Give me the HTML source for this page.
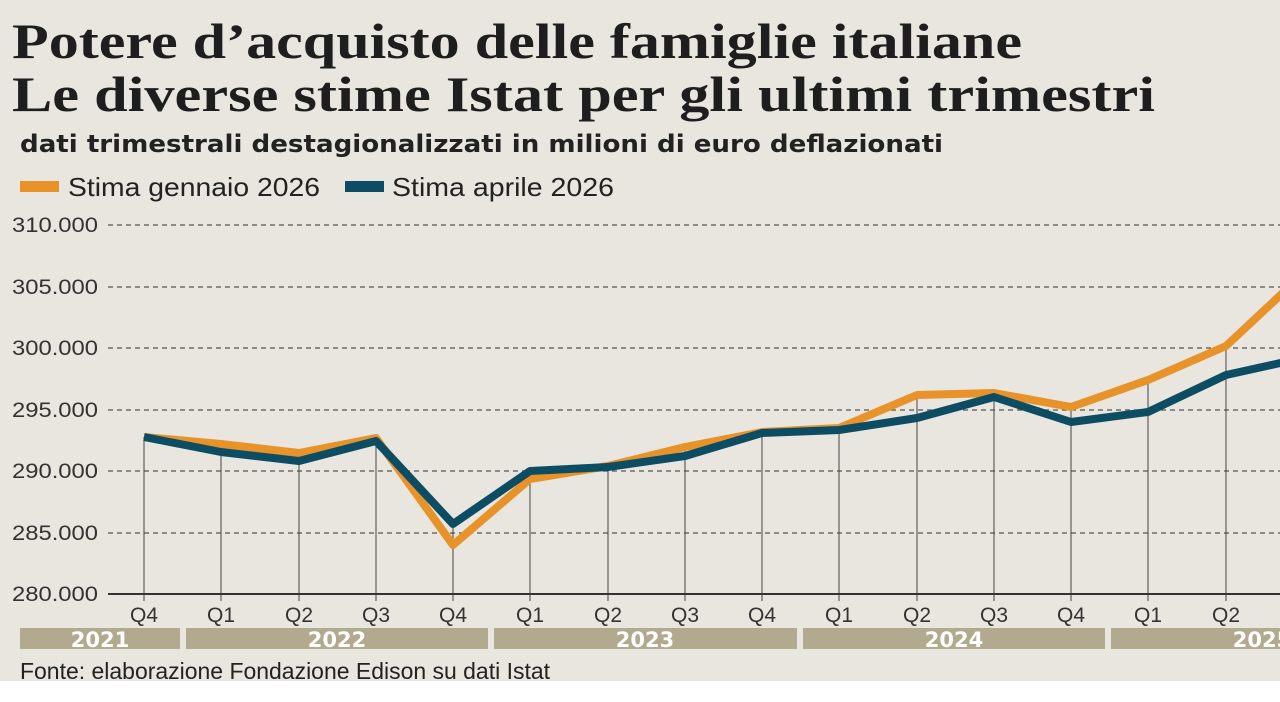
<!DOCTYPE html>
<html><head><meta charset="utf-8"><style>
body{margin:0;width:1280px;height:702px;overflow:hidden;background:#fff;}
#bg{position:absolute;left:0;top:0;width:1280px;height:681px;background:#e8e6df;}
</style></head><body>
<div id="bg"></div>
<svg width="1280" height="702" style="position:absolute;left:0;top:0" font-family="Liberation Sans, sans-serif">
<g font-family="Liberation Serif, serif" font-weight="bold" font-size="50" fill="#1e1e1e">
<text x="12" y="58" textLength="1010" lengthAdjust="spacingAndGlyphs">Potere d’acquisto delle famiglie italiane</text>
<text x="12" y="111" textLength="1143" lengthAdjust="spacingAndGlyphs">Le diverse stime Istat per gli ultimi trimestri</text>
</g>
<text x="20" y="152" font-family="DejaVu Sans, sans-serif" font-weight="bold" font-size="24" fill="#222" textLength="923" lengthAdjust="spacingAndGlyphs">dati trimestrali destagionalizzati in milioni di euro deflazionati</text>
<rect x="20" y="181" width="39" height="11" fill="#e8922a"/>
<text x="68" y="196" font-size="26" fill="#222" textLength="252" lengthAdjust="spacingAndGlyphs">Stima gennaio 2026</text>
<rect x="345" y="181" width="39" height="11" fill="#0d4d63"/>
<text x="392" y="196" font-size="26" fill="#222" textLength="222" lengthAdjust="spacingAndGlyphs">Stima aprile 2026</text>
<g stroke="#555" stroke-width="1.3" stroke-dasharray="5,4">
<line x1="108" x2="1280" y1="225" y2="225"/><line x1="108" x2="1280" y1="287" y2="287"/>
<line x1="108" x2="1280" y1="348" y2="348"/><line x1="108" x2="1280" y1="410" y2="410"/>
<line x1="108" x2="1280" y1="471" y2="471"/><line x1="108" x2="1280" y1="533" y2="533"/>
</g>
<g font-size="21" fill="#333">
<text x="12" y="232" textLength="86" lengthAdjust="spacingAndGlyphs">310.000</text><text x="12" y="294" textLength="86" lengthAdjust="spacingAndGlyphs">305.000</text><text x="12" y="355" textLength="86" lengthAdjust="spacingAndGlyphs">300.000</text>
<text x="12" y="417" textLength="86" lengthAdjust="spacingAndGlyphs">295.000</text><text x="12" y="478" textLength="86" lengthAdjust="spacingAndGlyphs">290.000</text><text x="12" y="540" textLength="86" lengthAdjust="spacingAndGlyphs">285.000</text><text x="12" y="601" textLength="86" lengthAdjust="spacingAndGlyphs">280.000</text>
</g>
<g stroke="#444" stroke-width="1">
<line x1="144" x2="144" y1="437" y2="601"/><line x1="221" x2="221" y1="444" y2="601"/><line x1="299" x2="299" y1="453" y2="601"/>
<line x1="376" x2="376" y1="438" y2="601"/><line x1="453" x2="453" y1="524" y2="601"/><line x1="530" x2="530" y1="471" y2="601"/>
<line x1="608" x2="608" y1="466" y2="601"/><line x1="685" x2="685" y1="447" y2="601"/><line x1="762" x2="762" y1="432" y2="601"/>
<line x1="839" x2="839" y1="428" y2="601"/><line x1="917" x2="917" y1="395" y2="601"/><line x1="994" x2="994" y1="393" y2="601"/>
<line x1="1071" x2="1071" y1="407" y2="601"/><line x1="1148" x2="1148" y1="380" y2="601"/><line x1="1226" x2="1226" y1="346" y2="601"/>
</g>
<line x1="108" x2="1280" y1="594" y2="594" stroke="#333" stroke-width="2"/>
<polyline fill="none" stroke="#e8922a" stroke-width="8" stroke-linejoin="round" points="144,437 221,444 299,453 376,438 453,545 530,479 608,466 685,447 762,432 839,428 917,395 994,393 1071,407 1148,380 1226,346 1303,274"/>
<polyline fill="none" stroke="#0d4d63" stroke-width="8" stroke-linejoin="round" points="144,437 221,452 299,461 376,441 453,524 530,471 608,467 685,456 762,433 839,430 917,418 994,397 1071,422 1148,412 1226,375 1303,358"/>
<g font-size="21" fill="#333" text-anchor="middle">
<text x="144" y="622">Q4</text><text x="221" y="622">Q1</text><text x="299" y="622">Q2</text><text x="376" y="622">Q3</text>
<text x="453" y="622">Q4</text><text x="530" y="622">Q1</text><text x="608" y="622">Q2</text><text x="685" y="622">Q3</text>
<text x="762" y="622">Q4</text><text x="839" y="622">Q1</text><text x="917" y="622">Q2</text><text x="994" y="622">Q3</text>
<text x="1071" y="622">Q4</text><text x="1148" y="622">Q1</text><text x="1226" y="622">Q2</text>
</g>
<g fill="#b2aa8e">
<rect x="20" y="628" width="160" height="21"/><rect x="186" y="628" width="302" height="21"/>
<rect x="494" y="628" width="303" height="21"/><rect x="803" y="628" width="302" height="21"/><rect x="1111" y="628" width="200" height="21"/>
</g>
<g font-size="21" font-weight="bold" fill="#fff" text-anchor="middle" font-family="DejaVu Sans, sans-serif">
<text x="100" y="647">2021</text><text x="337" y="647">2022</text><text x="645" y="647">2023</text><text x="954" y="647">2024</text><text x="1262" y="647">2025</text>
</g>
<text x="20" y="679" font-size="23" fill="#222" textLength="530" lengthAdjust="spacingAndGlyphs">Fonte: elaborazione Fondazione Edison su dati Istat</text>
</svg>
</body></html>
